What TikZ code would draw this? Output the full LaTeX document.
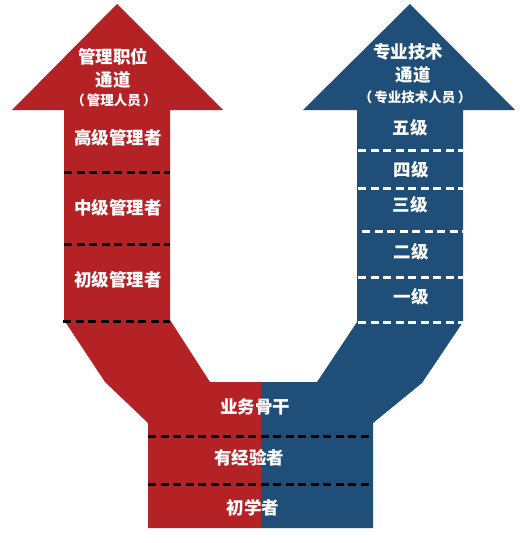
\documentclass[tikz,border=0pt]{standalone}
\usepackage{fontspec}
\newfontfamily\cjk{Noto Sans CJK SC}
\definecolor{mred}{RGB}{181,34,38}
\definecolor{mblue}{RGB}{31,78,121}
\begin{document}
\begin{tikzpicture}[x=1pt,y=-1pt,
  lbl/.style={text=white,font=\cjk\bfseries\fontsize{17.5}{18}\selectfont,inner sep=0pt},
  sml/.style={text=white,font=\cjk\bfseries\fontsize{13.5}{14}\selectfont,inner sep=0pt},
  blackdash/.style={black,line width=3pt,dash pattern=on 8pt off 4.5pt},
  whitedash/.style={white,line width=3pt,dash pattern=on 8pt off 4.5pt}]
\useasboundingbox (0,0) rectangle (525,543);
% red shape
\fill[mred] (117,4) -- (223,110) -- (170,110) -- (170,320) -- (210,382) -- (261,382)
  -- (261,528) -- (148,528) -- (148,423) -- (105,382) -- (64,320) -- (64,110) -- (12,110) -- cycle;
% blue shape
\fill[mblue] (410,4) -- (515,110) -- (463,110) -- (463,322) -- (422,383) -- (373,423)
  -- (373,528) -- (261,528) -- (261,382) -- (317,382) -- (357,322) -- (357,110) -- (303,110) -- cycle;
% dashed separators
\draw[blackdash] (64,172) -- (170,172);
\draw[blackdash] (64,244) -- (170,244);
\draw[blackdash] (63,321) -- (170,321);
\draw[whitedash] (358,150) -- (463,150);
\draw[whitedash] (358,188) -- (463,188);
\draw[whitedash] (362,231) -- (463,231);
\draw[whitedash] (358,277) -- (463,277);
\draw[whitedash] (358,322) -- (463,322);
\draw[blackdash] (148,436) -- (372,436);
\draw[blackdash] (148,484) -- (372,484);
% left texts
\node[lbl] (lt1) at (113,57) {管理职位};
\node[lbl] (lt2) at (113,80) {通道};
\node[sml] (lt3) at (114,100) {（\,管理人员\,）};
\node[lbl] (l1) at (118,138) {高级管理者};
\node[lbl] (l2) at (118,208) {中级管理者};
\node[lbl] (l3) at (118,280) {初级管理者};
% right texts
\node[lbl] (rt1) at (408,52) {专业技术};
\node[lbl] (rt2) at (413,75) {通道};
\node[sml] (rt3) at (415,97) {（\,专业技术人员\,）};
\node[lbl] (r5) at (410,128) {五级};
\node[lbl] (r4) at (411,170) {四级};
\node[lbl] (r3) at (410,205) {三级};
\node[lbl] (r2) at (411,252) {二级};
\node[lbl] (r1) at (411,297) {一级};
% bottom texts
\node[lbl] (b1) at (255,407) {业务骨干};
\node[lbl] (b2) at (249,458) {有经验者};
\node[lbl] (b3) at (253,508) {初学者};
\end{tikzpicture}
\end{document}
